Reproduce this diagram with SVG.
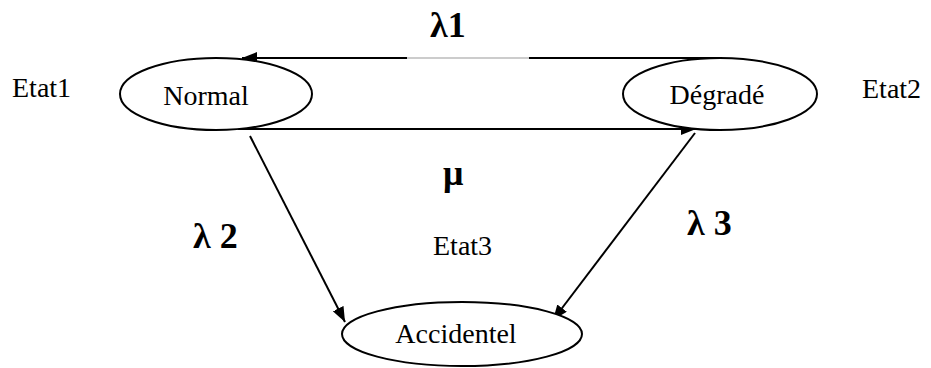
<svg xmlns="http://www.w3.org/2000/svg" width="931" height="368" viewBox="0 0 931 368">
<style>
.node ellipse{fill:#fff;stroke:#000;stroke-width:2}
.t{font-family:"Liberation Serif","Times New Roman",serif;font-size:28px;fill:#000}
.lbl{font-family:"Liberation Serif","Times New Roman",serif;font-size:36px;font-weight:bold;fill:#000}
.edge{fill:none;stroke:#000;stroke-width:2}
</style>
<defs>
<marker id="ah" markerUnits="userSpaceOnUse" markerWidth="16" markerHeight="14" refX="15" refY="6" orient="auto">
<path d="M0,0 L15,6 L0,12 z" fill="#000"/>
</marker>
</defs>
<rect width="931" height="368" fill="#fff"/>
<g id="connectors">
<path class="edge" d="M720,58 H529 M407,58 H242" marker-end="url(#ah)"/>
<line x1="407" y1="58" x2="529" y2="58" stroke="#999" stroke-width="1"/>
<path class="edge" d="M238,129 H696" marker-end="url(#ah)"/>
<path class="edge" d="M250,136 L345,322" marker-end="url(#ah)"/>
<path class="edge" d="M695,133 L553,320" marker-end="url(#ah)"/>
</g>
<g id="normal" class="node">
<ellipse cx="216" cy="94" rx="96" ry="36"/>
<text class="t" x="206" y="105" text-anchor="middle">Normal</text>
</g>
<g id="degrade" class="node">
<ellipse cx="720" cy="94" rx="97" ry="36"/>
<text class="t" x="717" y="104" text-anchor="middle">Dégradé</text>
</g>
<g id="accidentel" class="node">
<ellipse cx="462" cy="334" rx="120" ry="32"/>
<text class="t" x="456" y="343" text-anchor="middle">Accidentel</text>
</g>
<g id="labels">
<text class="t" x="12" y="97">Etat1</text>
<text class="t" x="862" y="98">Etat2</text>
<text class="t" x="433" y="255">Etat3</text>
<text class="lbl" x="430" y="37">λ1</text>
<text class="lbl" x="443" y="185">μ</text>
<text class="lbl" x="193" y="248">λ 2</text>
<text class="lbl" x="687" y="235">λ 3</text>
</g>
</svg>
